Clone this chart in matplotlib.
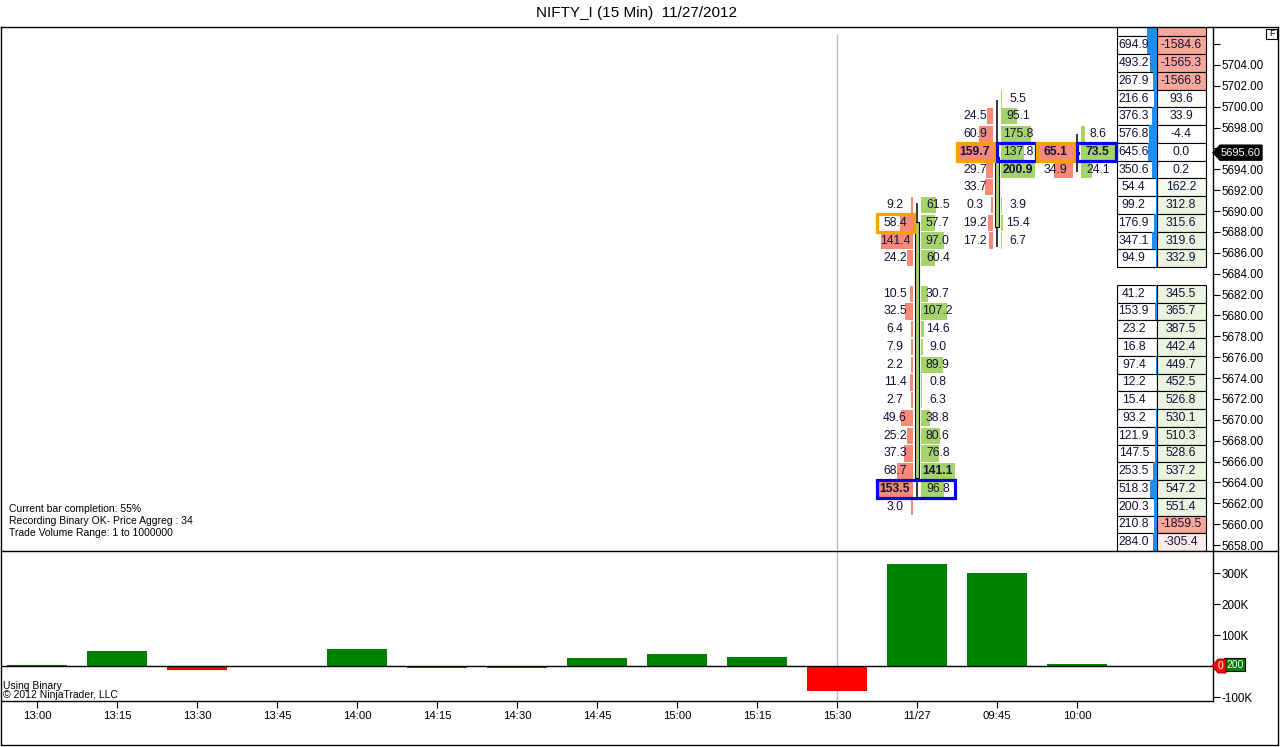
import matplotlib
matplotlib.use('Agg')
import matplotlib.pyplot as plt
from matplotlib.patches import Rectangle, Polygon

plt.rcParams['font.family'] = ['Liberation Sans', 'DejaVu Sans']

# ---------------- data ----------------
title = 'NIFTY_I (15 Min)  11/27/2012'
time_labels = ['13:00', '13:15', '13:30', '13:45', '14:00', '14:15', '14:30',
               '14:45', '15:00', '15:15', '15:30', '11/27', '09:45', '10:00']
volume_delta_k = [4, 48, -12, 0, 55, -8, -8, 27, 39, 30, -81, 329, 300, 7]
vol_ticks = [300, 200, 100, -100]
vol_tick_labels = ['300K', '200K', '100K', '-100K']

price_ticks = [5658, 5660, 5662, 5664, 5666, 5668, 5670, 5672, 5674, 5676, 5678,
               5680, 5682, 5684, 5686, 5688, 5690, 5692, 5694, 5696, 5698, 5700,
               5702, 5704, 5706]
price_tick_labels = ['5658.00', '5660.00', '5662.00', '5664.00', '5666.00', '5668.00',
                     '5670.00', '5672.00', '5674.00', '5676.00', '5678.00', '5680.00',
                     '5682.00', '5684.00', '5686.00', '5688.00', '5690.00', '5692.00',
                     '5694.00', '', '5698.00', '5700.00', '5702.00', '5704.00', '']
current_price = 5695.60

# aggregated price levels (top to bottom), step 1.7
levels = [5707.58, 5705.88, 5704.18, 5702.48, 5700.78, 5699.08, 5697.38, 5695.68,
          5693.98, 5692.28, 5690.58, 5688.88, 5687.18, 5685.48, 5683.78, 5682.08,
          5680.38, 5678.68, 5676.98, 5675.28, 5673.58, 5671.88, 5670.18, 5668.48,
          5666.78, 5665.08, 5663.38, 5661.68, 5659.98, 5658.28]

# candles
candle_x = [11, 12, 13]
candle_open = [5664.4, 5688.5, 5695.5]
candle_high = [5690.8, 5700.6, 5697.4]
candle_low = [5662.5, 5686.6, 5693.7]
candle_close = [5689.0, 5695.2, 5695.6]

# footprint columns: first level index, bid (left) values, ask (right) values
c1_start = 10
c1_bid = [9.2, 58.4, 141.4, 24.2, None, 10.5, 32.5, 6.4, 7.9, 2.2, 11.4, 2.7,
          49.6, 25.2, 37.3, 68.7, 153.5, 3.0]
c1_ask = [61.5, 57.7, 97.0, 60.4, None, 30.7, 107.2, 14.6, 9.0, 89.9, 0.8, 6.3,
          38.8, 80.6, 76.8, 141.1, 96.8, None]
c2_start = 4
c2_bid = [None, 24.5, 60.9, 159.7, 29.7, 33.7, 0.3, 19.2, 17.2]
c2_ask = [5.5, 95.1, 175.8, 137.8, 200.9, None, 3.9, 15.4, 6.7]
c3_start = 6
c3_bid = [None, 65.1, 34.9]
c3_ask = [8.6, 73.5, 24.1]

# highlight boxes: (column x, level index, side, colour)
boxes = [(11, 11, 'bid', '#FFA000'), (11, 26, 'both', '#0000EE'),
         (12, 7, 'bid', '#FFA000'), (12, 7, 'ask', '#0000EE'),
         (13, 7, 'bid', '#FFA000'), (13, 7, 'ask', '#0000EE')]

# volume profile table (level index 0 is the row cut by the panel top)
table_vol = [700.0, 694.9, 493.2, 267.9, 216.6, 376.3, 576.8, 645.6, 350.6, 54.4,
             99.2, 176.9, 347.1, 94.9, None, 41.2, 153.9, 23.2, 16.8, 97.4, 12.2,
             15.4, 93.2, 121.9, 147.5, 253.5, 518.3, 200.3, 210.8, 284.0]
table_delta = [-1590.0, -1584.6, -1565.3, -1566.8, 93.6, 33.9, -4.4, 0.0, 0.2, 162.2,
               312.8, 315.6, 319.6, 332.9, None, 345.5, 365.7, 387.5, 442.4, 449.7,
               452.5, 526.8, 530.1, 510.3, 528.6, 537.2, 547.2, 551.4, -1859.5, -305.4]

info_lines = ['Current bar completion: 55%',
              'Recording Binary OK- Price Aggreg : 34',
              'Trade Volume Range: 1 to 1000000']

# ---------------- figure ----------------
W, H = 1280, 747
fig = plt.figure(figsize=(12.8, 7.47), dpi=100)
fig.patch.set_facecolor('white')


def rect(l, t, r, b):
    return [l / W, 1 - b / H, (r - l) / W, (b - t) / H]


ax = fig.add_axes(rect(2, 27, 1213, 551))
ax2 = fig.add_axes(rect(2, 551, 1213, 701))
XMIN, XMAX = -0.4375, 14.7
ax.set_xlim(XMIN, XMAX)
ax.set_ylim(5657.43, 5707.64)
ax2.set_xlim(XMIN, XMAX)
ax2.set_ylim(-112.9, 371)

TXT = '#14103a'
RED = '#F88878'
GRN = '#A6D46A'
FS = 8.7
ROW = 1.7

for a in (ax, ax2):
    for s in ('left', 'top', 'bottom'):
        a.spines[s].set_visible(False)
    a.spines['right'].set_linewidth(1.0)

# price axis
ax.yaxis.tick_right()
ax.set_yticks(price_ticks)
ax.set_yticklabels(price_tick_labels, fontsize=8.4)
ax.tick_params(axis='y', direction='out', length=5, width=0.8, pad=1)
ax.set_xticks([])

# grey session line
ax.axvline(10, ymin=0, ymax=0.985, color='#BDBDBD', lw=1.0, zorder=0)
ax2.axvline(10, color='#BDBDBD', lw=1.0, zorder=0)

# candles
for x, o, h, l, c in zip(candle_x, candle_open, candle_high, candle_low, candle_close):
    ax.plot([x, x], [l, h], color='black', lw=1.1, zorder=4, solid_capstyle='butt')
    lo, hi = min(o, c), max(o, c)
    ax.add_patch(Rectangle((x - 0.025, lo), 0.055, max(hi - lo, 0.15),
                           facecolor=GRN if c >= o else RED, edgecolor='black',
                           lw=0.8, zorder=5))

# footprint
cols = [(11, c1_start, c1_bid, c1_ask), (12, c2_start, c2_bid, c2_ask),
        (13, c3_start, c3_bid, c3_ask)]
BARW = 0.43
for x, start, bids, asks in cols:
    bmax = max(v for v in bids if v is not None)
    amax = max(v for v in asks if v is not None)
    for i, (b, a) in enumerate(zip(bids, asks)):
        p = levels[start + i]
        if b is not None:
            w = max(b / bmax * BARW, 0.022)
            ax.add_patch(Rectangle((x - 0.055 - w, p - ROW * 0.46), w, ROW * 0.92,
                                   facecolor=RED, edgecolor='none', zorder=2))
            ax.text(x - 0.275, p, f'{b:.1f}', ha='center', va='center', fontsize=FS,
                    color=TXT, fontweight='bold' if b == bmax else 'normal', zorder=6)
        if a is not None:
            w = max(a / amax * BARW, 0.022)
            ax.add_patch(Rectangle((x + 0.045, p - ROW * 0.46), w, ROW * 0.92,
                                   facecolor=GRN, edgecolor='none', zorder=2))
            ax.text(x + 0.26, p, f'{a:.1f}', ha='center', va='center', fontsize=FS,
                    color=TXT, fontweight='bold' if a == amax else 'normal', zorder=6)

for x, li, side, col in boxes:
    p = levels[li]
    if side == 'bid':
        x0, x1 = x - 0.495, x - 0.035
    elif side == 'ask':
        x0, x1 = x - 0.005, x + 0.485
    else:
        x0, x1 = x - 0.495, x + 0.48
    ax.add_patch(Rectangle((x0, p - ROW * 0.52), x1 - x0, ROW * 1.04, facecolor='none',
                           edgecolor=col, lw=2.3, zorder=7))


# volume profile table
def blend(base, t):
    return tuple(1 - (1 - ch) * t for ch in base)


NEG = (0.97, 0.66, 0.60)
POS = (0.92, 0.955, 0.87)
for idx, (v, d) in enumerate(zip(table_vol, table_delta)):
    if v is None:
        continue
    p = levels[idx]
    ax.add_patch(Rectangle((13.5, p - ROW / 2), 0.5, ROW, facecolor='white',
                           edgecolor='black', lw=0.8, zorder=3))
    bw = v / 700.0 * 0.125
    ax.add_patch(Rectangle((14.0 - bw, p - ROW / 2), bw, ROW, facecolor='#1E8FF0',
                           edgecolor='none', zorder=3.5))
    if d < 0:
        fc = blend(NEG, min(1.0, abs(d) / 1500.0))
    else:
        fc = blend(POS, min(1.0, d / 300.0)) if d > 5 else (1, 1, 1)
    ax.add_patch(Rectangle((14.0, p - ROW / 2), 0.6125, ROW, facecolor=fc,
                           edgecolor='black', lw=0.8, zorder=3))
    if idx > 0:
        ax.text(13.71, p, f'{v:.1f}', ha='center', va='center', fontsize=FS,
                color=TXT, zorder=6)
        ax.text(14.3, p, f'{d:.1f}', ha='center', va='center', fontsize=FS,
                color=TXT, zorder=6)

# volume panel
ax2.bar(range(len(volume_delta_k)), volume_delta_k, width=0.75,
        color=['#008000' if v >= 0 else '#FF0000' for v in volume_delta_k], zorder=2)
ax2.axhline(0, color='black', lw=1.0, zorder=3)
ax2.yaxis.tick_right()
ax2.set_yticks(vol_ticks)
ax2.set_yticklabels(vol_tick_labels, fontsize=8.4)
ax2.tick_params(axis='y', direction='out', length=5, width=0.8, pad=1)
ax2.spines['bottom'].set_visible(True)
ax2.spines['bottom'].set_linewidth(1.0)
ax2.set_xticks(range(len(time_labels)))
ax2.set_xticklabels(time_labels, fontsize=8.2)
ax2.tick_params(axis='x', direction='out', length=5, width=0.8, pad=2)

# ---------------- overlay (pixel coords) ----------------
ov = fig.add_axes([0, 0, 1, 1], zorder=10)
ov.set_xlim(0, W)
ov.set_ylim(H, 0)
ov.axis('off')

ov.text(636, 13, title, ha='center', va='center', fontsize=11)
ov.plot([1, 1278, 1278, 1, 1], [27, 27, 745, 745, 27], color='black', lw=1.0)
ov.plot([1, 1278], [551, 551], color='black', lw=1.0)

for i, line in enumerate(info_lines):
    ov.text(9, 509 + 12 * i, line, ha='left', va='center', fontsize=7.5)
ov.text(3, 686, 'Using Binary', ha='left', va='center', fontsize=7.5)
ov.text(3, 695, '\u00a9 2012 NinjaTrader, LLC', ha='left', va='center', fontsize=7.5)

# F box
ov.add_patch(Rectangle((1266, 29), 11, 10, facecolor='white', edgecolor='black', lw=0.8))
ov.text(1271.5, 34, 'F', ha='center', va='center', fontsize=6.5)

# current price marker
fig.canvas.draw()
py = H - ax.transData.transform((0, current_price))[1]
ov.add_patch(Polygon([(1213, py), (1220, py - 7.5), (1262, py - 7.5), (1262, py + 7.5),
                      (1220, py + 7.5)], closed=True, facecolor='black', edgecolor='black'))
ov.text(1241, py, f'{current_price:.2f}', ha='center', va='center', fontsize=8,
        color='white')

# zero marker in volume panel
zy = H - ax2.transData.transform((0, 0))[1]
ov.add_patch(Rectangle((1224, zy - 8), 21, 13, facecolor='#008000', edgecolor='black', lw=0.8))
ov.text(1235, zy - 1.5, '200', ha='center', va='center', fontsize=7.5, color='white')
ov.add_patch(Polygon([(1212, zy), (1218, zy - 7), (1226, zy - 7), (1226, zy + 7),
                      (1218, zy + 7)], closed=True, facecolor='#FF0000', edgecolor='#800000', lw=0.6))
ov.text(1221, zy, '0', ha='center', va='center', fontsize=7.5, color='white')

fig.savefig('out.png', dpi=100, facecolor='white')
